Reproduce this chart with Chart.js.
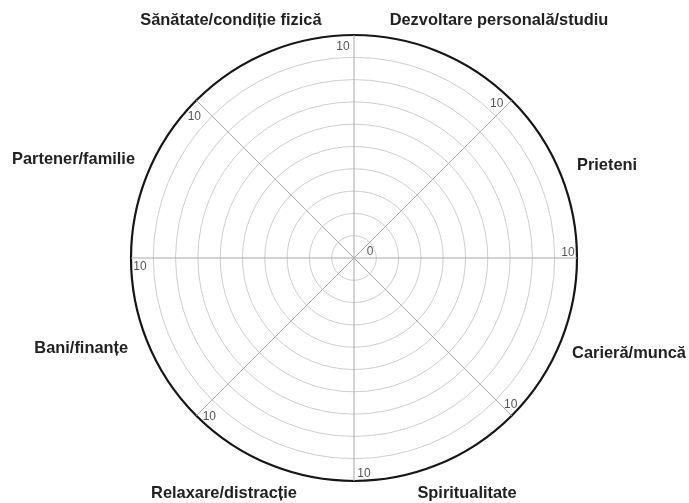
<!DOCTYPE html>
<html>
<head>
<meta charset="utf-8">
<script src="https://cdn.jsdelivr.net/npm/chart.js@4.4.1/dist/chart.umd.min.js"></script>
<style>
html,body{margin:0;padding:0;background:#fff}
#wrap{width:689px;height:503px;position:relative}
</style>
</head>
<body>
<div id="wrap"><canvas id="c"></canvas></div>
<script>
// Categories, clockwise starting at the top (12 o'clock) sector
const categories = [
  'Dezvoltare personală/studiu',
  'Prieteni',
  'Carieră/muncă',
  'Spiritualitate',
  'Relaxare/distracție',
  'Bani/finanțe',
  'Partener/familie',
  'Sănătate/condiție fizică'
];
// The wheel is blank in the reference: no scores filled in
const scores = [null, null, null, null, null, null, null, null];
// Scale values / tick labels
const scaleMin = 0;
const scaleMax = 10;
const scaleStep = 1;
const tickLabels = ['0', '10'];

const wheelLabels = {
  id: 'wheelLabels',
  afterDraw(chart, args, opts) {
    const s = chart.scales.r;
    const cx = s.xCenter, cy = s.yCenter, r = s.drawingArea;
    const ctx = chart.ctx;
    ctx.save();
    ctx.textBaseline = 'middle';
    ctx.font = opts.font;
    ctx.fillStyle = opts.color;
    chart.data.labels.forEach((lab, i) => {
      const p = opts.places[i];
      ctx.textAlign = p[2];
      ctx.fillText(lab, cx + p[0] * r, cy + p[1] * r);
    });
    ctx.font = opts.tickFont;
    ctx.fillStyle = opts.tickColor;
    ctx.textAlign = 'center';
    for (let i = 0; i < chart.data.labels.length; i++) {
      const pt = s.getPointPositionForValue(i, scaleMax);
      const o = opts.tickOffsets[i];
      ctx.fillText(tickLabels[1], pt.x + o[0], pt.y + o[1]);
    }
    const c0 = s.getPointPositionForValue(0, scaleMin);
    ctx.fillText(tickLabels[0], c0.x + opts.zeroOffset[0], c0.y + opts.zeroOffset[1]);
    ctx.restore();
  }
};

new Chart(document.getElementById('c'), {
  type: 'radar',
  data: {
    labels: categories,
    datasets: [{
      data: scores,
      borderWidth: 0,
      pointRadius: 0,
      backgroundColor: 'rgba(0,0,0,0)',
      borderColor: 'rgba(0,0,0,0)'
    }]
  },
  options: {
    responsive: true,
    maintainAspectRatio: false,
    animation: false,
    layout: { padding: { left: 131, right: 112, top: 35, bottom: 22 } },
    plugins: {
      legend: { display: false },
      tooltip: { enabled: false },
      wheelLabels: {
        font: 'bold 16.4px "Liberation Sans", Arial, sans-serif',
        color: '#222',
        tickFont: '12px "Liberation Sans", Arial, sans-serif',
        tickColor: '#555',
        places: [
          [0.650, -1.063, 'center'],
          [1.000, -0.417, 'left'],
          [0.978, 0.430, 'left'],
          [0.507, 1.058, 'center'],
          [-0.583, 1.054, 'center'],
          [-1.013, 0.404, 'right'],
          [-0.982, -0.444, 'right'],
          [-0.552, -1.063, 'center']
        ],
        tickOffsets: [
          [-11, 11.5], [-15, 3], [-9, -5], [-1, -11],
          [10, -7], [13, 1], [9, 9], [-2, 16]
        ],
        zeroOffset: [16, -6]
      }
    },
    scales: {
      r: {
        min: scaleMin,
        max: scaleMax,
        beginAtZero: true,
        ticks: { display: false, stepSize: scaleStep },
        pointLabels: { display: false },
        angleLines: { display: true, color: '#a8a8a8', lineWidth: 1 },
        grid: {
          circular: true,
          color: (c) => (c.tick && c.tick.value === scaleMax) ? '#161616' : '#cdcdcd',
          lineWidth: (c) => (c.tick && c.tick.value === scaleMax) ? 2.2 : 1
        }
      }
    }
  },
  plugins: [wheelLabels]
});
</script>
</body>
</html>
